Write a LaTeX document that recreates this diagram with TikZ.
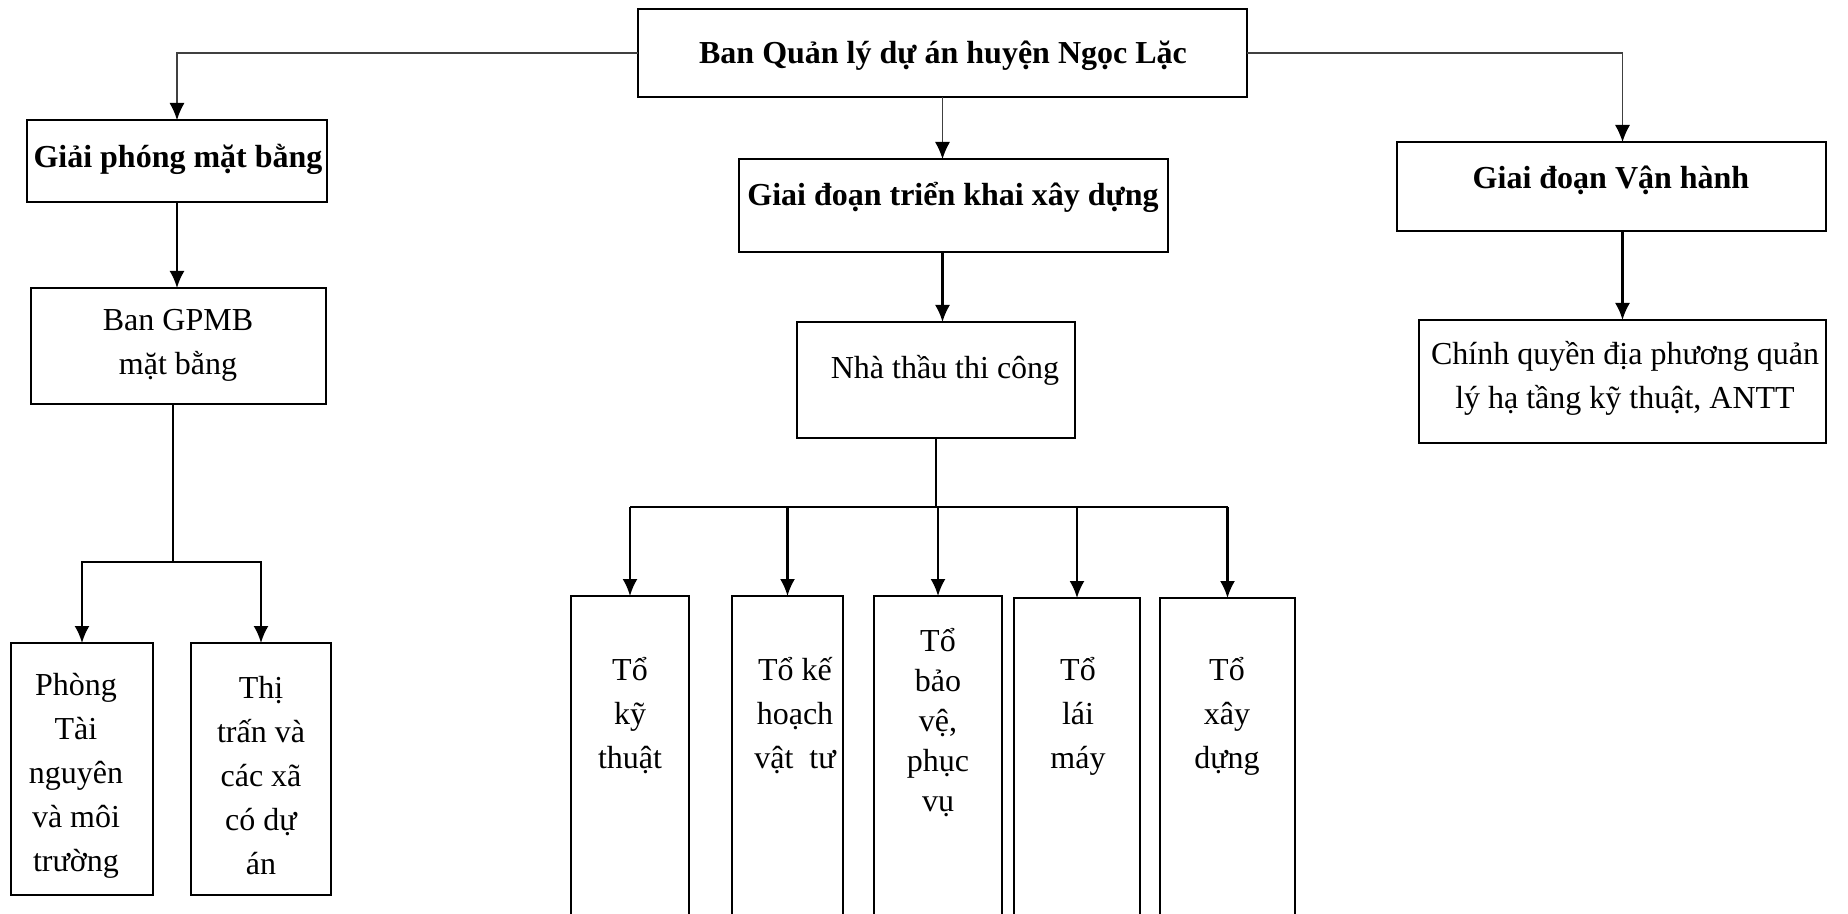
\documentclass[tikz,border=0pt]{standalone}
\usepackage{fontspec}
\setmainfont{Liberation Serif}
\usetikzlibrary{arrows.meta}

\begin{document}
\begin{tikzpicture}[x=0.5pt,y=-0.5pt,
    box/.style={draw,line width=1.1pt,inner sep=0pt,outer sep=0pt},
    txt/.style={align=center,inner sep=0pt,font=\fontsize{16}{22}\selectfont},
    bold/.style={txt,font=\fontsize{16}{22}\selectfont\bfseries},
    link/.style={line width=1.1pt},
    arrow/.style={link,-{Latex[length=8.5pt,width=7.5pt]}},
    thinarrow/.style={line width=0.6pt,black!75,-{Latex[length=8.5pt,width=7.5pt,color=black]}}]
        %
        \clip (0,0) rectangle (1848,914);
        %
        % Boxes
        \node[box,minimum width=304.5pt,minimum height=44pt] (top) at (942.5,53) {};
        \node[box,minimum width=150pt,minimum height=41pt] (gpmb) at (177,161) {};
        \node[box,minimum width=147.5pt,minimum height=58pt] (bgpmb) at (178.5,346) {};
        \node[box,minimum width=71pt,minimum height=126pt] (phong) at (82,769) {};
        \node[box,minimum width=70pt,minimum height=126pt] (thi) at (261,769) {};
        \node[box,minimum width=214.5pt,minimum height=46.5pt] (gd) at (953.5,205.5) {};
        \node[box,minimum width=139pt,minimum height=58pt] (nt) at (936,380) {};
        \node[box,minimum width=59pt,minimum height=182pt] (kythuat) at (630,778) {};
        \node[box,minimum width=55.5pt,minimum height=182pt] (kehoach) at (787.5,778) {};
        \node[box,minimum width=64pt,minimum height=182pt] (baove) at (938,778) {};
        \node[box,minimum width=63pt,minimum height=181pt] (laimay) at (1077,779) {};
        \node[box,minimum width=67.5pt,minimum height=181pt] (xaydung) at (1227.5,779) {};
        \node[box,minimum width=214.5pt,minimum height=44.5pt] (vh) at (1611.5,186.5) {};
        \node[box,minimum width=203.5pt,minimum height=61.5pt] (cq) at (1622.5,381.5) {};
        %
        % Texts
        \node[bold] (top-lbl) at (943,56) {Ban Quản lý dự án huyện Ngọc Lặc};
        \node[bold] (gpmb-lbl) at (178,159) {Giải phóng mặt bằng};
        \node[txt] (bgpmb-lbl) at (178,345) {Ban GPMB\\mặt bằng};
        \node[txt] (phong-lbl) at (76,776) {Phòng\\Tài\\nguyên\\và môi\\trường};
        \node[txt] (thi-lbl) at (261,776) {Thị\\trấn và\\các xã\\có dự\\án};
        \node[bold] (gd-lbl) at (953,197) {Giai đoạn triển khai xây dựng};
        \node[txt] (nt-lbl) at (945,370) {Nhà thầu thi công};
        \node[txt] (kythuat-lbl) at (630,716) {Tổ\\kỹ\\thuật};
        \node[txt] (kehoach-lbl) at (795,716) {Tổ kế\\hoạch\\vật~ tư};
        \node[txt,font=\fontsize{16}{20}\selectfont] (baove-lbl) at (938,723) {Tổ\\bảo\\vệ,\\phục\\vụ};
        \node[txt] (laimay-lbl) at (1078,716) {Tổ\\lái\\máy};
        \node[txt] (xaydung-lbl) at (1227,716) {Tổ\\xây\\dựng};
        \node[bold] (vh-lbl) at (1611,180) {Giai đoạn Vận hành};
        \node[txt] (cq-lbl) at (1625,378) {Chính quyền địa phương quản\\lý hạ tầng kỹ thuật, ANTT};
        %
        % Links from the top box
        \draw[thinarrow] (top.west) -| (gpmb.north);
        \draw[thinarrow] (top.south) -- (top.south |- gd.north);
        \draw[thinarrow] (top.east) -| (cq.north |- vh.north);
        %
        % Left branch
        \coordinate (lbus) at (173,562);
        \draw[arrow] (gpmb.south) -- (gpmb.south |- bgpmb.north);
        \draw[arrow] (lbus |- bgpmb.south) -- (lbus) -| (phong.north);
        \draw[arrow] (lbus) -| (thi.north);
        %
        % Middle branch
        \coordinate (mbus) at (935,507);
        \draw[arrow] (top.south |- gd.south) -- (top.south |- nt.north);
        \draw[link] (nt.south) -- (nt.south |- mbus);
        \draw[link] (kythuat.north |- mbus) -- (xaydung.north |- mbus);
        \foreach \b in {kythuat,kehoach,baove,laimay,xaydung}
            \draw[arrow] (\b.north |- mbus) -- (\b.north);
        %
        % Right branch
        \draw[arrow] (cq.north |- vh.south) -- (cq.north);
      \end{tikzpicture}
\end{document}
